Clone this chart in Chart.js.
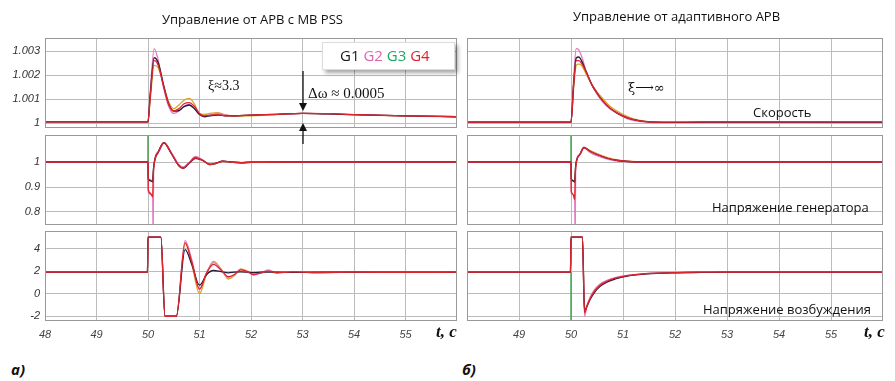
<!DOCTYPE html>
<html>
<head>
<meta charset="utf-8">
<script src="https://cdn.jsdelivr.net/npm/chart.js@4.4.1/dist/chart.umd.min.js"></script>
<style>
  body { margin: 0; background: #fff; width: 895px; height: 381px; position: relative; overflow: hidden; font-family: "Open Sans", sans-serif; }
  canvas { position: absolute; }
  .txt { position: absolute; white-space: nowrap; color: #111; }
  .serif { font-family: "Liberation Serif", serif; }
</style>
</head>
<body>
<canvas id="spL" width="462" height="114" style="left:0;top:26px"></canvas>
<canvas id="vL" width="462" height="114" style="left:0;top:123px"></canvas>
<canvas id="eL" width="462" height="124" style="left:0;top:219px"></canvas>
<canvas id="spR" width="426" height="114" style="left:462px;top:26px"></canvas>
<canvas id="vR" width="426" height="114" style="left:462px;top:123px"></canvas>
<canvas id="eR" width="426" height="124" style="left:462px;top:219px"></canvas>

<div class="txt" style="left:162px;top:10px;font-size:13px">Управление от АРВ с МВ PSS</div>
<div class="txt" style="left:573px;top:7px;font-size:13px">Управление от адаптивного АРВ</div>

<div style="position:absolute;left:322px;top:42px;width:131px;height:26px;background:#fff;border:1px solid #ddd;box-shadow:3px 3px 4px rgba(0,0,0,0.35)"></div>
<div class="txt" style="left:340px;top:42px;font-size:15px;line-height:26px">
  <span style="color:#1a1a1a">G1</span> <span style="color:#e062b4">G2</span> <span style="color:#1fa860">G3</span> <span style="color:#e0202c">G4</span>
</div>

<div class="txt serif" style="left:208px;top:78px;font-size:14px">ξ≈3.3</div>
<div class="txt serif" style="left:308px;top:85px;font-size:15px">Δω ≈ 0.0005</div>
<div class="txt" style="left:628px;top:80px;font-size:13px;font-family:'DejaVu Serif',serif">ξ⟶∞</div>
<div class="txt" style="left:753px;top:103px;font-size:13px">Скорость</div>
<div class="txt" style="left:712px;top:198px;font-size:13px">Напряжение генератора</div>
<div class="txt" style="left:703px;top:300px;font-size:13px">Напряжение возбуждения</div>

<div class="txt serif" style="left:436px;top:322px;font-size:17px;font-weight:bold;font-style:italic">t, c</div>
<div class="txt serif" style="left:864px;top:322px;font-size:17px;font-weight:bold;font-style:italic">t, c</div>
<div class="txt" style="left:11px;top:359px;font-size:15px;font-weight:bold;font-style:italic">а)</div>
<div class="txt" style="left:462px;top:359px;font-size:15px;font-weight:bold;font-style:italic">б)</div>

<svg width="895" height="381" style="position:absolute;left:0;top:0;pointer-events:none">
  <line x1="303" y1="71" x2="303" y2="104" stroke="#111" stroke-width="1.3"/>
  <polygon points="299,103 307,103 303,111" fill="#111"/>
  <line x1="303" y1="131" x2="303" y2="144" stroke="#111" stroke-width="1.3"/>
  <polygon points="299,131 307,131 303,123" fill="#111"/>
</svg>

<script>
// time axis
const xTicksL = [48, 49, 50, 51, 52, 53, 54, 55];
const xTicksR = [49, 50, 51, 52, 53, 54, 55];

// speed, left (PSS)
const tSpL = [48, 50, 50.04, 50.12, 50.2, 50.3, 50.4, 50.5, 50.6, 50.7, 50.8, 50.9, 51.0, 51.1, 51.2, 51.35, 51.5, 51.7, 52, 52.5, 53, 53.5, 54, 55, 56];
const spL_G1 = [1.00005, 1.00005, 1.0011, 1.00272, 1.0025, 1.0016, 1.0008, 1.0005, 1.00052, 1.00068, 1.00075, 1.0006, 1.00035, 1.00027, 1.0003, 1.00033, 1.0003, 1.0003, 1.00033, 1.00036, 1.0004, 1.00038, 1.00035, 1.0003, 1.00026];
const spL_G2 = [1.00005, 1.00005, 1.0012, 1.0031, 1.0026, 1.0015, 1.0007, 1.0004, 1.0005, 1.0007, 1.00078, 1.0006, 1.00035, 1.00025, 1.00032, 1.0004, 1.00033, 1.0003, 1.00033, 1.00036, 1.0004, 1.00038, 1.00035, 1.0003, 1.00026];
const spL_G3 = [1.00005, 1.00005, 1.0009, 1.0024, 1.0023, 1.0016, 1.0009, 1.0006, 1.00075, 1.00095, 1.00103, 1.0008, 1.00038, 1.00036, 1.0004, 1.00043, 1.00035, 1.00028, 1.0003, 1.00035, 1.0004, 1.00038, 1.00034, 1.00029, 1.00025];
const spL_G4 = [1.00005, 1.00005, 1.001, 1.0026, 1.0024, 1.00155, 1.0008, 1.0005, 1.0006, 1.0008, 1.00085, 1.0007, 1.0004, 1.0003, 1.00033, 1.00035, 1.0003, 1.0003, 1.00033, 1.00036, 1.0004, 1.00039, 1.00035, 1.0003, 1.00027];

// speed, right (adaptive)
const tSpR = [48, 50, 50.05, 50.1, 50.15, 50.2, 50.3, 50.4, 50.5, 50.6, 50.75, 50.9, 51.1, 51.3, 51.5, 51.8, 52.2, 53, 54, 55, 56];
const spR_G1 = [1.00004, 1.00004, 1.0016, 1.0027, 1.00275, 1.0026, 1.0021, 1.0016, 1.00125, 1.00095, 1.00062, 1.0004, 1.0002, 1.0001, 1.00005, 1.00003, 1.00003, 1.00004, 1.00004, 1.00004, 1.00004];
const spR_G2 = [1.00004, 1.00004, 1.0018, 1.0031, 1.00305, 1.0028, 1.0021, 1.0016, 1.0012, 1.0009, 1.00058, 1.00038, 1.00016, 1.00007, 1.00003, 1.00002, 1.00003, 1.00004, 1.00003, 1.00003, 1.00003];
const spR_G3 = [1.00004, 1.00004, 1.0014, 1.0024, 1.00245, 1.0024, 1.002, 1.0016, 1.0013, 1.00105, 1.0007, 1.00048, 1.00026, 1.00012, 1.00006, 1.00003, 1.00003, 1.00003, 1.00003, 1.00002, 1.00002];
const spR_G4 = [1.00004, 1.00004, 1.0016, 1.0026, 1.0026, 1.0025, 1.0021, 1.0016, 1.00125, 1.00095, 1.00062, 1.0004, 1.0002, 1.0001, 1.00005, 1.00004, 1.00004, 1.00005, 1.00005, 1.00005, 1.00005];

// generator voltage, left
const tVL = [48, 50, 50.005, 50.05, 50.09, 50.1, 50.11, 50.2, 50.31, 50.45, 50.6, 50.68, 50.8, 50.92, 51.05, 51.2, 51.32, 51.45, 51.6, 51.8, 52, 53, 54, 56];
const vL_G1 = [1, 1, 0.935, 0.925, 0.92, 0.95, 0.98, 1.04, 1.077, 1.035, 0.985, 0.975, 0.995, 1.015, 1.008, 0.99, 0.995, 1.003, 1.0, 0.997, 0.999, 1.0, 1.0, 1.0];
const vL_G2 = [1, 1, 0.88, 0.87, 0.865, 0.70, 0.98, 1.04, 1.077, 1.04, 0.99, 0.98, 0.998, 1.022, 1.01, 0.99, 0.994, 1.003, 1.0, 0.997, 0.999, 1.0, 1.0, 1.0];
const vL_G3 = [1, 1, 0.93, 0.928, 0.925, 0.955, 0.98, 1.04, 1.077, 1.035, 0.985, 0.975, 0.997, 1.015, 1.006, 0.992, 0.996, 1.002, 1.001, 0.998, 1.0, 1.0, 1.0, 1.0];
const vL_G4 = [1, 1, 0.89, 0.875, 0.86, 0.93, 0.975, 1.04, 1.077, 1.035, 0.985, 0.975, 0.996, 1.017, 1.008, 0.99, 0.995, 1.003, 1.0, 0.997, 0.999, 1.0, 1.0, 1.0];

// generator voltage, right
const tVR = [48, 50, 50.005, 50.04, 50.07, 50.08, 50.09, 50.17, 50.25, 50.35, 50.5, 50.7, 50.9, 51.1, 51.4, 52, 53, 56];
const vR_G1 = [1, 1, 0.935, 0.925, 0.92, 0.95, 0.985, 1.03, 1.058, 1.045, 1.03, 1.015, 1.006, 1.002, 1.0, 1.0, 1.0, 1.0];
const vR_G2 = [1, 1, 0.875, 0.87, 0.86, 0.70, 0.985, 1.03, 1.058, 1.04, 1.025, 1.012, 1.004, 1.001, 1.0, 1.0, 1.0, 1.0];
const vR_G3 = [1, 1, 0.93, 0.925, 0.92, 0.955, 0.985, 1.03, 1.058, 1.048, 1.034, 1.018, 1.008, 1.003, 1.0, 1.0, 1.0, 1.0];
const vR_G4 = [1, 1, 0.885, 0.87, 0.85, 0.93, 0.98, 1.03, 1.058, 1.045, 1.03, 1.015, 1.006, 1.002, 1.0, 1.0, 1.0, 1.0];

// excitation voltage, left
const tEL = [48, 49.99, 50.0, 50.25, 50.33, 50.55, 50.72, 50.85, 51.0, 51.14, 51.27, 51.42, 51.56, 51.68, 51.8, 51.93, 52.05, 52.2, 52.33, 52.5, 52.8, 53.2, 54, 55, 56];
const eL_G1 = [1.9, 1.9, 5.0, 5.0, -2.0, -2.0, 3.9, 2.6, 0.75, 1.7, 2.05, 1.95, 1.85, 1.9, 1.93, 1.9, 1.87, 1.9, 1.92, 1.9, 1.88, 1.9, 1.9, 1.9, 1.9];
const eL_G2 = [1.9, 1.9, 5.0, 5.0, -2.0, -2.0, 4.7, 3.0, 0.4, 1.9, 2.75, 2.1, 1.45, 1.7, 2.15, 1.95, 1.65, 1.85, 2.1, 1.85, 1.95, 1.85, 1.9, 1.88, 1.9];
const eL_G3 = [1.9, 1.9, 5.0, 5.0, -2.0, -2.0, 4.5, 2.6, 0.0, 1.8, 2.86, 2.2, 1.3, 1.6, 2.2, 2.0, 1.7, 1.85, 2.0, 1.85, 1.93, 1.87, 1.92, 1.9, 1.92];
const eL_G4 = [1.9, 1.9, 5.0, 5.0, -2.0, -2.0, 4.5, 2.8, 0.4, 1.85, 2.6, 2.1, 1.5, 1.7, 2.1, 1.95, 1.7, 1.85, 2.0, 1.85, 1.93, 1.87, 1.9, 1.88, 1.9];

// excitation voltage, right
const tER = [48, 49.99, 50.0, 50.22, 50.26, 50.3, 50.37, 50.45, 50.56, 50.7, 50.85, 51.08, 51.46, 52, 52.5, 53, 54, 56];
const eR_G1 = [1.9, 1.9, 5.0, 5.0, -1.6, -1.2, -0.5, 0.1, 0.65, 1.05, 1.3, 1.55, 1.75, 1.85, 1.88, 1.9, 1.9, 1.9];
const eR_G2 = [1.9, 1.9, 5.0, 5.0, -2.0, -1.2, -0.3, 0.35, 0.85, 1.2, 1.42, 1.62, 1.8, 1.88, 1.9, 1.9, 1.9, 1.9];
const eR_G3 = [1.9, 1.9, 5.0, 5.0, -1.5, -1.1, -0.4, 0.2, 0.75, 1.12, 1.37, 1.6, 1.78, 1.87, 1.9, 1.9, 1.9, 1.9];
const eR_G4 = [1.9, 1.9, 5.0, 5.0, -1.7, -1.2, -0.4, 0.2, 0.75, 1.12, 1.37, 1.6, 1.78, 1.86, 1.9, 1.9, 1.9, 1.9];

// switching spike at t = 50 (green trace)
const tSpike = [50, 50];
const vSpike = [1, 1.2];
const eSpikeR = [1.9, -3];

const colors = { G1: "#241a3c", G2: "#e27ac6", G3: "#d6a62e", G4: "#e0242c", sw: "#2a9a3a" };

function pts(t, v) {
  return t.map((x, i) => ({ x: x, y: v[i] }));
}

function series(t, g1, g2, g3, g4, spike) {
  const ds = [
    { label: "G4", data: pts(t, g4), borderColor: colors.G4, order: 0 },
    { label: "G1", data: pts(t, g1), borderColor: colors.G1, order: 1 },
    { label: "G2", data: pts(t, g2), borderColor: colors.G2, order: 2 },
    { label: "G3", data: pts(t, g3), borderColor: colors.G3, order: 3 },
  ];
  if (spike) ds.push({ label: "sw", data: pts(tSpike, spike), borderColor: colors.sw, order: 4 });
  return ds;
}

const frame = {
  id: "frame",
  afterDatasetsDraw(chart) {
    const a = chart.chartArea, ctx = chart.ctx;
    ctx.save();
    ctx.strokeStyle = "#999";
    ctx.lineWidth = 1;
    ctx.strokeRect(a.left + 0.5, a.top + 0.5, a.right - a.left - 1, a.bottom - a.top - 1);
    ctx.restore();
  }
};

const tickFmt = v => String(+Number(v).toFixed(4));

function panel(id, datasets, yMin, yMax, yTicks, left, xTicks, bottom) {
  new Chart(document.getElementById(id), {
    type: "line",
    data: { datasets: datasets },
    options: {
      responsive: false,
      animation: false,
      devicePixelRatio: 1,
      layout: { padding: { top: 12, right: 5, left: 0, bottom: bottom ? 0 : 12 } },
      elements: {
        point: { radius: 0 },
        line: { borderWidth: 1.3, cubicInterpolationMode: "monotone", fill: false }
      },
      plugins: { legend: { display: false }, tooltip: { enabled: false } },
      scales: {
        x: {
          type: "linear", min: 48, max: 56,
          afterBuildTicks: s => { s.ticks = xTicks.map(v => ({ value: v })); },
          afterFit: s => { s.height = bottom ? 22 : 0; },
          grid: { display: true, color: "#bcbcbc", lineWidth: 1, drawTicks: false },
          border: { display: false },
          ticks: {
            display: bottom, padding: 7, color: "#444", callback: tickFmt,
            font: { family: "Liberation Sans", size: 11, style: "italic" }
          }
        },
        y: {
          type: "linear", min: yMin, max: yMax,
          afterBuildTicks: s => { s.ticks = yTicks.map(v => ({ value: v })); },
          afterFit: s => { s.width = left ? 45 : 5; },
          grid: { display: true, color: "#bcbcbc", lineWidth: 1, drawTicks: false },
          border: { display: false },
          ticks: {
            display: left, padding: 5, color: "#333", callback: tickFmt,
            font: { family: "Liberation Sans", size: 11, style: "italic" }
          }
        }
      }
    },
    plugins: [frame]
  });
}

const ySpeedTicks = [1, 1.001, 1.002, 1.003];
const yVoltTicks = [0.8, 0.9, 1];
const yExcTicks = [-2, 0, 2, 4];

panel("spL", series(tSpL, spL_G1, spL_G2, spL_G3, spL_G4), 0.999792, 1.003542, ySpeedTicks, true, xTicksL, false);
panel("vL", series(tVL, vL_G1, vL_G2, vL_G3, vL_G4, vSpike), 0.748, 1.108, yVoltTicks, true, xTicksL, false);
panel("eL", series(tEL, eL_G1, eL_G2, eL_G3, eL_G4), -2.42, 5.55, yExcTicks, true, xTicksL, true);
panel("spR", series(tSpR, spR_G1, spR_G2, spR_G3, spR_G4), 0.999792, 1.003542, ySpeedTicks, false, xTicksR, false);
panel("vR", series(tVR, vR_G1, vR_G2, vR_G3, vR_G4, vSpike), 0.748, 1.108, yVoltTicks, false, xTicksR, false);
panel("eR", series(tER, eR_G1, eR_G2, eR_G3, eR_G4, eSpikeR), -2.42, 5.55, yExcTicks, false, xTicksR, true);
</script>
</body>
</html>
